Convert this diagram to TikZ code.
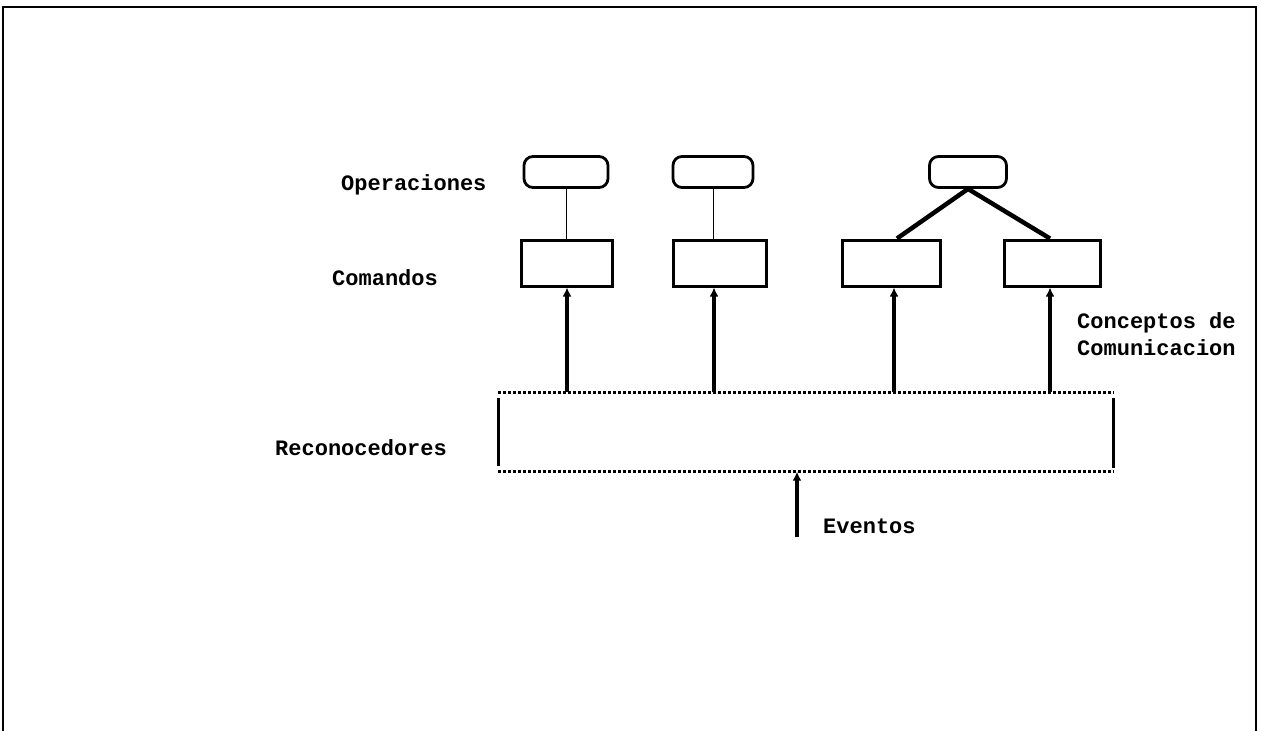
\documentclass[tikz,border=0pt]{standalone}
\usepackage{fontspec}
\setmonofont{Liberation Mono}
\usetikzlibrary{arrows.meta}

\begin{document}
\begin{tikzpicture}[x=1pt,y=-1pt]
\tikzset{oper/.style={draw,line width=2.8pt,rounded corners=9pt,minimum height=31pt,inner sep=0pt}}
\tikzset{cmd/.style={draw,line width=3pt,minimum height=46pt,inner sep=0pt}}
\tikzset{etiq/.style={anchor=base west,inner sep=0pt,font=\ttfamily\bfseries\fontsize{22}{26}\selectfont}}
\tikzset{flecha/.style={line width=3.5pt,-{Latex[length=9pt,width=9pt]}}}
\useasboundingbox (0,0) rectangle (1262,731);
% marco
\draw[line width=2pt] (3,731) -- (3,7) -- (1256,7) -- (1256,731);
% operaciones
\node[oper,minimum width=84pt] (op1) at (566,172) {};
\node[oper,minimum width=80pt] (op2) at (713,172) {};
\node[oper,minimum width=77pt] (op3) at (968,172) {};
% comandos
\node[cmd,minimum width=91pt] (cmd1) at (567,263) {};
\node[cmd,minimum width=93pt] (cmd2) at (720,263) {};
\node[cmd,minimum width=98pt] (cmd3) at (891,263) {};
\node[cmd,minimum width=96pt] (cmd4) at (1052,263) {};
\draw[line width=1pt] (op1.south) -- (op1.south |- cmd1.north);
\draw[line width=1pt] (op2.south) -- (op2.south |- cmd2.north);
\draw[line width=4.5pt] (op3.south) -- ([xshift=6pt]cmd3.north);
\draw[line width=4.5pt] (op3.south) -- ([xshift=-2pt]cmd4.north);
% reconocedores
\node[minimum width=615pt,minimum height=79pt,inner sep=0pt] (rec) at (806,432) {};
\draw[line width=3pt,dotted] (rec.north west) -- (rec.north east);
\draw[line width=3pt,dotted] (rec.south west) -- (rec.south east);
\draw[line width=3pt] ([yshift=-6pt]rec.north west) -- ([yshift=6pt]rec.south west);
\draw[line width=3pt] ([yshift=-6pt]rec.north east) -- ([yshift=4pt]rec.south east);
\draw[flecha] (rec.north -| cmd1.south) -- (cmd1.south);
\draw[flecha] ([xshift=-6pt]rec.north -| cmd2.south) -- ([xshift=-6pt]cmd2.south);
\draw[flecha] ([xshift=3pt]rec.north -| cmd3.south) -- ([xshift=3pt]cmd3.south);
\draw[flecha] ([xshift=-2pt]rec.north -| cmd4.south) -- ([xshift=-2pt]cmd4.south);
\coordinate (ev) at (797,537);
\draw[flecha] (ev) -- (ev |- rec.south);
% etiquetas
\node[etiq] (lop) at (341,190) {Operaciones};
\node[etiq] (lcmd) at (332,285) {Comandos};
\node[etiq] (lrec) at (275,455) {Reconocedores};
\node[etiq] (lcon1) at (1077,328) {Conceptos de};
\node[etiq] (lcon2) at (1077,355) {Comunicacion};
\node[etiq] (lev) at (823,533) {Eventos};
\end{tikzpicture}
\end{document}
